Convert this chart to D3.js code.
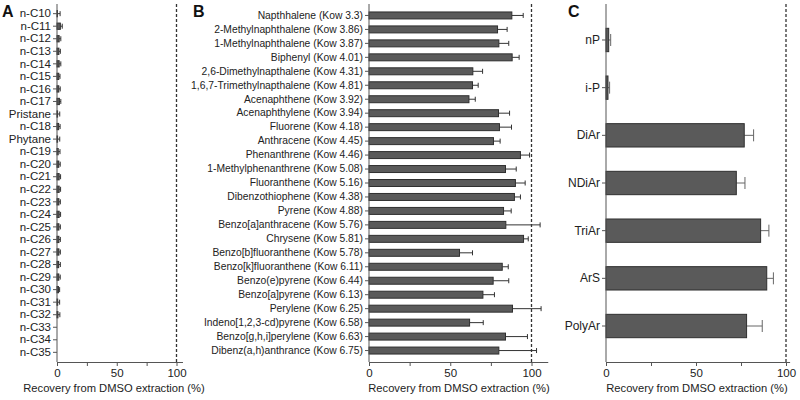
<!DOCTYPE html>
<html lang="en">
<head>
<meta charset="UTF-8">
<title>Recovery from DMSO extraction</title>
<script src="https://cdnjs.cloudflare.com/ajax/libs/d3/7.8.5/d3.min.js"></script>
<style>
    body { margin: 0; padding: 0; background: #fff; }
    svg { display: block; font-family: "Liberation Sans", Arial, sans-serif; }
</style>
</head>
<body>
<svg id="chart" width="800" height="400"></svg>
<script>
// Panel A - alkanes
const alkanes = ["n-C10", "n-C11", "n-C12", "n-C13", "n-C14", "n-C15", "n-C16", "n-C17", "Pristane", "n-C18",
    "Phytane", "n-C19", "n-C20", "n-C21", "n-C22", "n-C23", "n-C24", "n-C25", "n-C26", "n-C27",
    "n-C28", "n-C29", "n-C30", "n-C31", "n-C32", "n-C33", "n-C34", "n-C35"];
const alkaneMean = [0.4, 2.8, 1.8, 1.6, 1.8, 1.5, 1.5, 2.0, 0.5, 1.4,
    0.5, 1.0, 1.5, 1.8, 1.8, 1.6, 1.8, 1.6, 1.6, 1.6,
    1.4, 1.5, 1.2, 0.6, 0.8, 0, 0, 0];
const alkaneSd = [2.2, 1.6, 1.4, 1.2, 1.4, 1.0, 1.2, 1.2, 1.8, 1.2,
    1.8, 1.5, 1.2, 1.2, 1.2, 1.2, 1.2, 1.2, 1.2, 1.2,
    1.4, 1.2, 1.0, 1.6, 1.6, 0, 0, 0];

// Panel B - aromatics
const aromatics = ["Napthhalene (Kow 3.3)", "2-Methylnaphthalene (Kow 3.86)", "1-Methylnaphthalene (Kow 3.87)",
    "Biphenyl (Kow 4.01)", "2,6-Dimethylnapthalene (Kow 4.31)", "1,6,7-Trimethylnapthalene (Kow 4.81)",
    "Acenaphthene (Kow 3.92)", "Acenaphthylene (Kow 3.94)", "Fluorene (Kow 4.18)", "Anthracene (Kow 4.45)",
    "Phenanthrene (Kow 4.46)", "1-Methylphenanthrene (Kow 5.08)", "Fluoranthene (Kow 5.16)",
    "Dibenzothiophene (Kow 4.38)", "Pyrene (Kow 4.88)", "Benzo[a]anthracene (Kow 5.76)", "Chrysene (Kow 5.81)",
    "Benzo[b]fluoranthene (Kow 5.78)", "Benzo[k]fluoranthene (Kow 6.11)", "Benzo(e)pyrene (Kow 6.44)",
    "Benzo[a]pyrene (Kow 6.13)", "Perylene (Kow 6.25)", "Indeno[1,2,3-cd)pyrene (Kow 6.58)",
    "Benzo[g,h,i]perylene (Kow 6.63)", "Dibenz(a,h)anthrance (Kow 6.75)"];
const aromaticMean = [87.9, 79.1, 79.9, 88.1, 63.9, 63.7, 61.5, 79.7, 80.3, 76.6,
    93.2, 84.0, 90.1, 89.5, 82.8, 84.2, 95.1, 55.7, 82.0, 76.4,
    70.1, 88.3, 61.9, 84.0, 79.9];
const aromaticSd = [7.0, 5.9, 6.1, 4.3, 6.0, 3.5, 3.9, 6.8, 7.4, 4.1,
    5.6, 6.6, 6.0, 3.7, 4.7, 21.1, 2.9, 8.0, 3.7, 9.6,
    7.1, 17.6, 8.4, 13.5, 23.2];

// Panel C - fractions
const fractions = ["nP", "i-P", "DiAr", "NDiAr", "TriAr", "ArS", "PolyAr"];
const fractionMean = [1.5, 1.1, 76.8, 72.4, 85.9, 89.3, 78.1];
const fractionSd = [1.1, 0.9, 5.2, 4.8, 4.6, 3.7, 8.7];

const xTicks = [0, 25, 50, 75, 100];
const xTickLabels = ["0", "", "50", "", "100"];
const xTitle = "Recovery from DMSO extraction (%)";

const svg = d3.select("#chart");

function drawPanel(o) {
    const g = svg.append("g");
    const x = d3.scaleLinear().domain([0, o.xMax]).range([o.left, o.left + o.pxPer100 * o.xMax / 100]);
    const y = d3.scaleBand().domain(o.cats).range([4, 362])
        .paddingInner(o.padIn).paddingOuter(o.padOut);
    const data = o.cats.map((c, i) => ({ c, m: o.mean[i], s: o.sd[i] }));

    // dashed reference at 100 %
    g.append("line")
        .attr("x1", x(100)).attr("x2", x(100))
        .attr("y1", 4).attr("y2", 362)
        .attr("stroke", "#333").attr("stroke-width", 1.3)
        .attr("stroke-dasharray", "3,2");

    // error bars
    const eb = g.append("g").attr("stroke", o.errColor).attr("stroke-width", 1);
    data.filter(d => d.s > 0).forEach(d => {
        const cy = y(d.c) + y.bandwidth() / 2;
        eb.append("line").attr("x1", x(d.m)).attr("x2", x(d.m + d.s)).attr("y1", cy).attr("y2", cy);
        eb.append("line").attr("x1", x(d.m + d.s)).attr("x2", x(d.m + d.s))
            .attr("y1", cy - o.cap / 2).attr("y2", cy + o.cap / 2);
    });

    // bars
    g.append("g").selectAll("rect").data(data).join("rect")
        .attr("x", x(0))
        .attr("y", d => y(d.c))
        .attr("width", d => Math.max(0, x(d.m) - x(0)))
        .attr("height", y.bandwidth())
        .attr("fill", "#5a5a5a")
        .attr("stroke", "#2f2f2f")
        .attr("stroke-width", d => d.m > 0 ? 1 : 0);

    // y axis
    const ya = g.append("g").attr("transform", `translate(${o.left},0)`)
        .call(d3.axisLeft(y).tickSize(4).tickSizeOuter(0).tickPadding(2));
    ya.select(".domain").attr("stroke", "#555").attr("d", `M0,4V362`);
    ya.selectAll(".tick line").attr("stroke", "#555");
    ya.selectAll("text").attr("fill", "#222").style("font-size", o.labelSize + "px");

    // x axis
    const xa = g.append("g").attr("transform", "translate(0,362)")
        .call(d3.axisBottom(x).tickValues(xTicks).tickFormat((d, i) => xTickLabels[i])
            .tickSize(4).tickSizeOuter(0).tickPadding(3));
    xa.select(".domain").attr("stroke", "#555");
    xa.selectAll(".tick line").attr("stroke", "#555");
    xa.selectAll("text").attr("fill", "#222").style("font-size", "11.5px");

    g.append("text")
        .attr("x", o.titleX).attr("y", 392)
        .attr("text-anchor", "middle")
        .attr("fill", "#222")
        .style("font-size", "11.2px")
        .text(xTitle);

    g.append("text")
        .attr("x", o.letterX).attr("y", 17)
        .attr("fill", "#111")
        .style("font-size", "16px")
        .style("font-weight", "bold")
        .text(o.letter);
}

drawPanel({ letter: "A", letterX: 2, cats: alkanes, mean: alkaneMean, sd: alkaneSd,
    left: 57, pxPer100: 119.5, xMax: 105, padIn: 0.5, padOut: 0.52, cap: 5,
    errColor: "#333", labelSize: 11.5, titleX: 114 });
drawPanel({ letter: "B", letterX: 193, cats: aromatics, mean: aromaticMean, sd: aromaticSd,
    left: 369, pxPer100: 162.5, xMax: 110, padIn: 0.5, padOut: 0.57, cap: 5,
    errColor: "#333", labelSize: 10.3, titleX: 459 });
drawPanel({ letter: "C", letterX: 568, cats: fractions, mean: fractionMean, sd: fractionSd,
    left: 606, pxPer100: 180, xMax: 102, padIn: 0.51, padOut: 0.51, cap: 12,
    errColor: "#666", labelSize: 12, titleX: 697 });
</script>
</body>
</html>
